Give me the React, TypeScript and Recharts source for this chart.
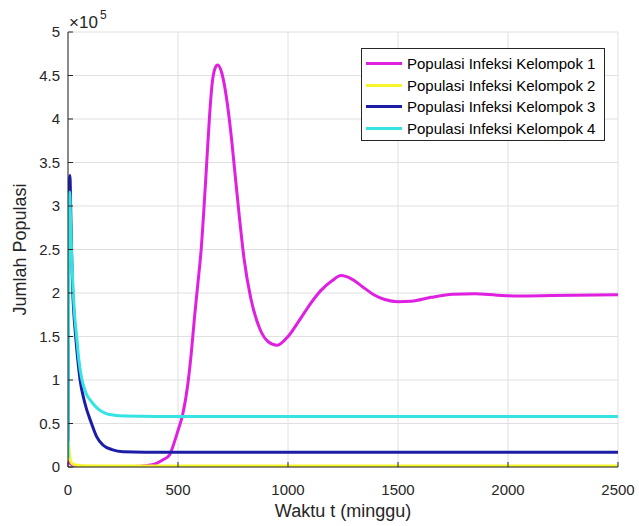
import React from 'react';
import { LineChart, Line, XAxis, YAxis, CartesianGrid } from 'recharts';

// waktu t (minggu) and populasi in units of 10^5
const g1T = [0, 10, 25, 50, 100, 200, 300, 350, 400, 430, 462, 480, 500, 521, 545, 560, 575, 590, 605, 625, 643, 655, 668, 680, 700, 720, 740, 760, 780, 800, 830, 870, 910, 951, 1000, 1050, 1100, 1150, 1200, 1241, 1290, 1340, 1390, 1440, 1500, 1560, 1650, 1750, 1850, 1950, 2050, 2200, 2500];
const g1V = [0.08, 0.04, 0.02, 0.01, 0.004, 0.002, 0.006, 0.015, 0.04, 0.08, 0.14, 0.26, 0.42, 0.6, 0.96, 1.3, 1.72, 2.1, 2.49, 3.26, 4.02, 4.4, 4.58, 4.62, 4.52, 4.25, 3.85, 3.35, 2.85, 2.4, 1.95, 1.6, 1.44, 1.4, 1.5, 1.68, 1.87, 2.03, 2.14, 2.2, 2.16, 2.07, 1.98, 1.925, 1.9, 1.905, 1.95, 1.985, 1.99, 1.975, 1.965, 1.97, 1.98];

const g2T = [0, 3, 8, 15, 30, 60, 200, 2500];
const g2V = [0.3, 0.25, 0.12, 0.05, 0.025, 0.015, 0.012, 0.012];

const g3T = [0, 3, 6, 9, 12, 16, 21, 27, 35, 45, 55, 75, 107, 130, 160, 200, 250, 350, 2500];
const g3V = [0.3, 2.8, 3.3, 3.35, 3.0, 2.5, 2.05, 1.75, 1.5, 1.22, 1.0, 0.75, 0.5, 0.35, 0.25, 0.2, 0.175, 0.17, 0.17];

const g4T = [0, 2, 5, 8, 12, 17, 23, 30, 40, 50, 62, 80, 107, 135, 168, 210, 260, 400, 2500];
const g4V = [0.1, 1.5, 3.0, 3.16, 2.8, 2.4, 2.05, 1.75, 1.48, 1.22, 1.02, 0.86, 0.75, 0.67, 0.62, 0.595, 0.585, 0.58, 0.58];

const xTicks = [0, 500, 1000, 1500, 2000, 2500];
const yTicks = [0, 0.5, 1, 1.5, 2, 2.5, 3, 3.5, 4, 4.5, 5];

const names = [
  'Populasi Infeksi Kelompok 1',
  'Populasi Infeksi Kelompok 2',
  'Populasi Infeksi Kelompok 3',
  'Populasi Infeksi Kelompok 4',
];
const colors = ['#e020e0', '#f5f52a', '#1c1ca8', '#35e3e3'];

const toPoints = (ts: number[], vs: number[]) => ts.map((t, i) => ({ t, v: vs[i] }));
const series = [toPoints(g1T, g1V), toPoints(g2T, g2V), toPoints(g3T, g3V), toPoints(g4T, g4V)];

const FONT = '"Liberation Sans", Arial, Helvetica, sans-serif';
const AXIS = '#262626';

export default function App() {
  return (
    <div style={{ position: 'absolute', left: 0, top: 0, width: 639, height: 526, background: '#fff', fontFamily: FONT }}>
      <LineChart width={639} height={526} margin={{ top: 32, right: 21, bottom: 0, left: 0 }} style={{ fontFamily: FONT }}>
        <CartesianGrid stroke="#e0e0e0" strokeWidth={1} />
        <XAxis
          dataKey="t"
          type="number"
          domain={[0, 2500]}
          ticks={xTicks}
          allowDataOverflow
          height={59}
          stroke={AXIS}
          tickSize={-5}
          tickMargin={22}
          tick={{ fill: AXIS, fontSize: 15 }}
          label={{ value: 'Waktu t (minggu)', position: 'insideBottom', offset: 9, fill: AXIS, fontSize: 18 }}
        />
        <XAxis xAxisId="top" orientation="top" type="number" domain={[0, 2500]} ticks={xTicks} height={0} stroke={AXIS} tickSize={-5} tick={false} />
        <YAxis
          type="number"
          domain={[0, 5]}
          ticks={yTicks}
          allowDataOverflow
          width={68}
          stroke={AXIS}
          tickSize={-5}
          tickMargin={13}
          tick={{ fill: AXIS, fontSize: 15 }}
          label={{ value: 'Jumlah Populasi', angle: -90, position: 'insideLeft', offset: 20, fill: AXIS, fontSize: 18, style: { textAnchor: 'middle' } }}
        />
        <YAxis yAxisId="right" orientation="right" type="number" domain={[0, 5]} ticks={yTicks} width={0} stroke={AXIS} tickSize={-5} tick={false} />
        {series.map((d, i) => (
          <Line
            key={names[i]}
            data={d}
            dataKey="v"
            name={names[i]}
            type="monotone"
            stroke={colors[i]}
            strokeWidth={3}
            dot={false}
            activeDot={false}
            isAnimationActive={false}
          />
        ))}
      </LineChart>

      <svg style={{ position: 'absolute', left: 0, top: 0 }} width={200} height={32}>
        <text x={69} y={28} fontSize={17} fill={AXIS} fontFamily={FONT}>×10</text>
        <text x={100} y={19} fontSize={12} fill={AXIS} fontFamily={FONT}>5</text>
      </svg>

      <div
        style={{
          position: 'absolute',
          left: 361,
          top: 48,
          width: 242,
          height: 87,
          border: '1px solid ' + AXIS,
          background: '#fff',
          paddingTop: 4,
          boxSizing: 'content-box',
        }}
      >
        {names.map((n, i) => (
          <div key={n} style={{ display: 'flex', alignItems: 'center', height: 21.6 }}>
            <span style={{ display: 'inline-block', width: 36, height: 3, marginLeft: 4, background: colors[i] }} />
            <span style={{ marginLeft: 5, fontSize: 15, color: '#000', whiteSpace: 'nowrap' }}>{n}</span>
          </div>
        ))}
      </div>
    </div>
  );
}
